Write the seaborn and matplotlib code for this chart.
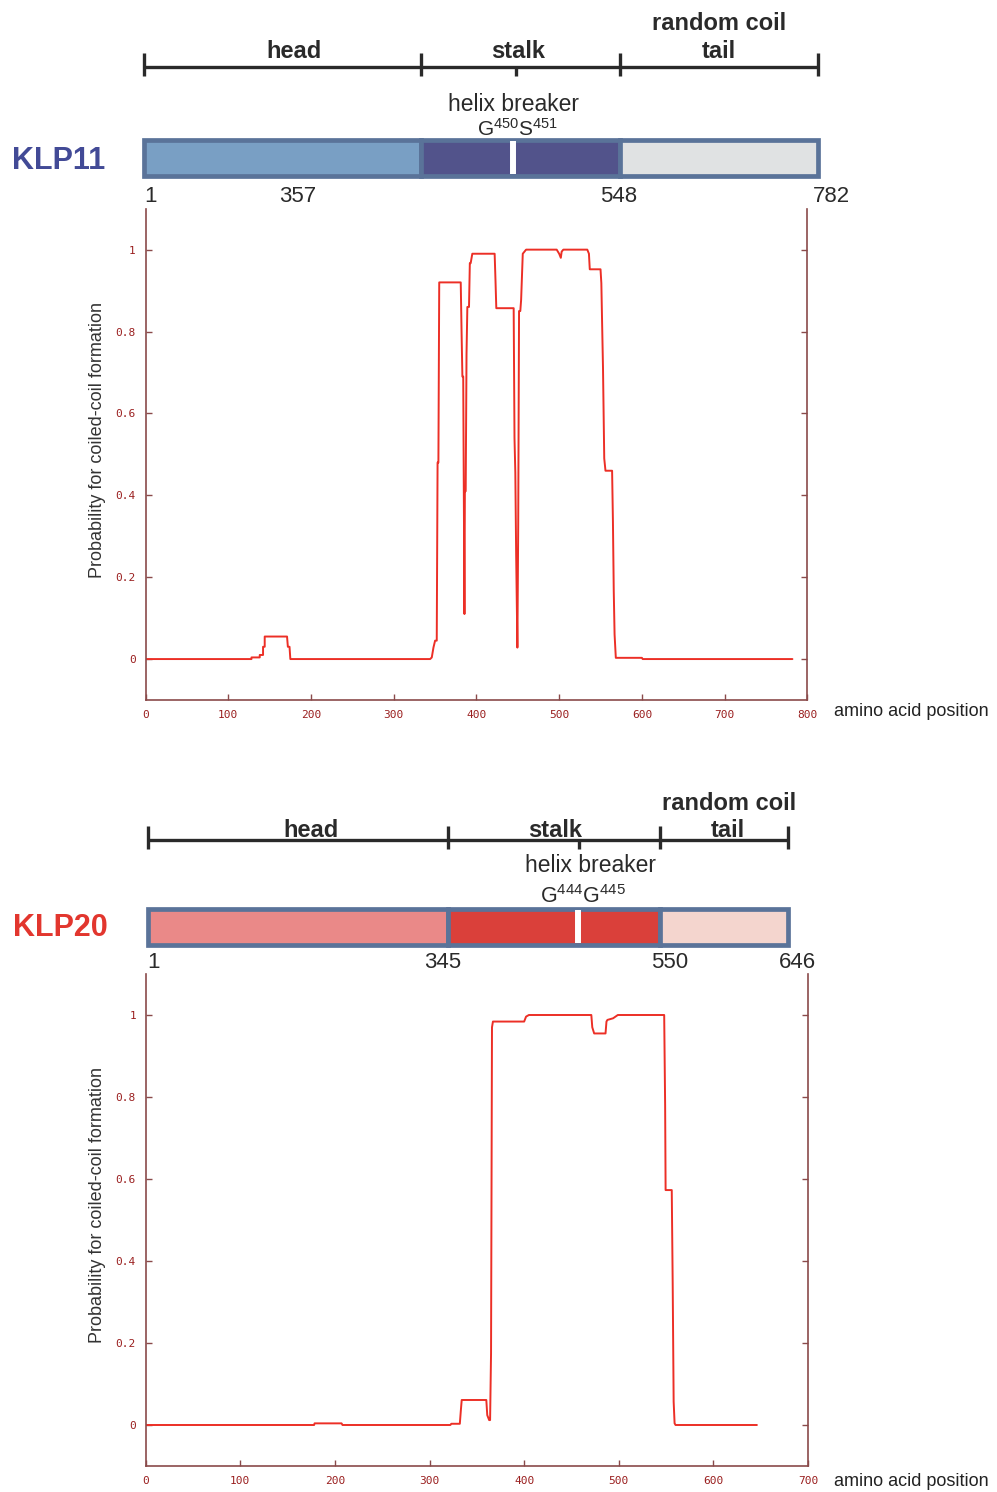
import numpy as np
import pandas as pd
import seaborn as sns
import matplotlib.pyplot as plt

# ---- data ----
# KLP11 coiled-coil probability (residue, probability)
klp11_pos = [1, 128, 128, 138, 138, 142, 142, 144, 144, 171, 172, 174, 175,
             344, 346, 348, 350, 352, 353, 354, 355, 381, 382, 383, 384, 385.5,
             386, 387, 388, 389, 391, 392, 393, 395, 422, 423, 424, 445, 446,
             447, 448, 449.5, 450.5, 451.5, 453, 454, 456, 460, 497, 500, 502,
             503, 505, 534, 536, 537, 550, 551, 552, 553, 554.5, 556, 564, 565,
             566, 567, 568.5, 600, 601, 782]
klp11_prob = [0.0, 0.0, 0.004, 0.004, 0.01, 0.01, 0.03, 0.03, 0.055, 0.055, 0.03, 0.03, 0.0,
              0.0, 0.004, 0.028, 0.045, 0.045, 0.48, 0.48, 0.92, 0.92, 0.80, 0.69, 0.69, 0.11,
              0.41, 0.41, 0.745, 0.86, 0.86, 0.967, 0.967, 0.99, 0.99, 0.926, 0.857, 0.857, 0.54,
              0.455, 0.256, 0.028, 0.33, 0.85, 0.85, 0.877, 0.99, 1.0, 1.0, 0.99, 0.98,
              0.995, 1.0, 1.0, 0.99, 0.952, 0.952, 0.918, 0.813, 0.711, 0.49, 0.46, 0.46, 0.337,
              0.166, 0.06, 0.003, 0.003, 0.0, 0.0]

# KLP20 coiled-coil probability
klp20_pos = [1, 178, 178.5, 207, 208, 322, 323, 332, 333, 334, 360, 361, 363, 364,
             365, 366, 367, 400, 402, 405, 471, 472, 474, 486, 487, 488, 494, 499,
             548, 549, 549.5, 556, 557, 558, 559, 560, 646]
klp20_prob = [0.0, 0.0, 0.004, 0.004, 0.0, 0.0, 0.003, 0.003, 0.033, 0.061, 0.061, 0.024, 0.012, 0.012,
              0.175, 0.97, 0.984, 0.984, 0.996, 1.0, 1.0, 0.97, 0.955, 0.955, 0.984, 0.988, 0.992, 1.0,
              1.0, 0.78, 0.573, 0.573, 0.342, 0.057, 0.004, 0.0, 0.0]

# domain schematics (boundaries as drawn in the schematic, residue scale)
klp11_length = 782
klp11_bounds = [0, 321, 552, 782]
klp11_breaker = 428
klp11_colors = ['#799fc4', '#52538b', '#e0e2e3']
klp11_numbers = ['1', '357', '548', '782']

klp20_length = 646
klp20_bounds = [0, 303, 517, 646]
klp20_breaker = 434
klp20_colors = ['#ea8988', '#da403a', '#f4d5ce']
klp20_numbers = ['1', '345', '550', '646']

domain_names = ['head', 'stalk', 'tail']

y_ticks = [0, 0.2, 0.4, 0.6, 0.8, 1]
y_ticklabels = ['0', '0.2', '0.4', '0.6', '0.8', '1']

# ---- style ----
W, H = 997, 1492
sns.set_style('white')
plt.rcParams['font.family'] = ['Liberation Sans', 'DejaVu Sans']
plt.rcParams['mathtext.fontset'] = 'custom'
plt.rcParams['mathtext.rm'] = 'Liberation Sans'

spine_col = '#8a4a4a'
tick_col = '#9a1f1f'
line_red = '#ec2f26'
border = '#5a7399'
dark = '#2a2a2a'

fig = plt.figure(figsize=(W / 100, H / 100), dpi=100)


def ftxt(x, y, s, **kw):
    # place text at pixel position of the figure
    fig.text(x / W, 1 - y / H, s, **kw)


def profile(rect, pos, prob, xmax, xlabel_y):
    ax = fig.add_axes(rect)
    df = pd.DataFrame({'pos': pos, 'prob': prob})
    sns.lineplot(data=df, x='pos', y='prob', ax=ax, sort=False, estimator=None,
                 color=line_red, linewidth=1.4)
    ax.set_xlim(0, xmax)
    ax.set_ylim(-0.1, 1.1)
    ax.set_xticks(np.arange(0, xmax + 1, 100))
    ax.set_yticks(y_ticks)
    ax.set_yticklabels(y_ticklabels)
    for lab in ax.get_xticklabels() + ax.get_yticklabels():
        lab.set_fontfamily('DejaVu Sans Mono')
        lab.set_fontsize(8)
        lab.set_color(tick_col)
    ax.tick_params(axis='both', direction='in', length=4, width=1, color=spine_col, pad=7)
    ax.tick_params(axis='y', right=True, left=True)
    ax.tick_params(axis='x', bottom=True, top=False)
    ax.spines['top'].set_visible(False)
    for s in ['left', 'right', 'bottom']:
        ax.spines[s].set_color(spine_col)
        ax.spines[s].set_linewidth(1.2)
    ax.set_xlabel('')
    ax.set_ylabel('Probability for coiled-coil formation', fontsize=13, color='#333333')
    ax.yaxis.set_label_coords(-0.06, 0.53)
    ftxt(834, xlabel_y, 'amino acid position', fontsize=13, color='#222222', va='center')
    return ax


def schematic(rect, ylim, length, bounds, breaker, mid_tick, colors, line_y, bar_y):
    ax = fig.add_axes(rect)
    ax.set_xlim(0, length)
    ax.set_ylim(*ylim)
    ax.axis('off')
    for start, end, c in zip(bounds[:-1], bounds[1:], colors):
        ax.barh(bar_y, end - start, left=start, height=36, color=c,
                edgecolor=border, linewidth=3.4, clip_on=False)
    ax.vlines(breaker, bar_y - 16.5, bar_y + 16.5, color='white', lw=4.3, clip_on=False)
    ax.hlines(line_y, 0, length, color=dark, lw=2.4, clip_on=False)
    ax.vlines(bounds, line_y - 14, line_y + 9, color=dark, lw=2.4, clip_on=False)
    ax.vlines(mid_tick, line_y, line_y + 9, color=dark, lw=2.4, clip_on=False)
    return ax


# ---- KLP11 ----
schematic([144 / W, 1 - 210 / H, 674 / W, 210 / H], (210, 0), klp11_length,
          klp11_bounds, klp11_breaker, 432, klp11_colors, 67, 157.5)
bold = dict(fontsize=17, fontweight='bold', color=dark, ha='center', va='baseline')
ftxt(719, 30, 'random coil', **bold)
for name, x in zip(domain_names, [294, 518, 719]):
    ftxt(x, 58, name, **bold)
ftxt(514, 111, 'helix breaker', fontsize=16.5, color=dark, ha='center', va='baseline')
ftxt(518, 136, r'$\mathrm{G^{450}S^{451}}$', fontsize=15, color=dark, ha='center', va='baseline')
for s, x in zip(klp11_numbers, [150, 298, 619, 831]):
    ftxt(x, 202, s, fontsize=16, color=dark, ha='center', va='baseline')
ftxt(59, 161, 'KLP11', fontsize=22, fontweight='bold', color='#424a96', ha='center', va='center')

profile([145.6 / W, 1 - 700 / H, 661.7 / W, 491.3 / H], klp11_pos, klp11_prob, 800, 711)

# ---- KLP20 ----
schematic([148 / W, 1 - 980 / H, 640 / W, 200 / H], (980, 780), klp20_length,
          klp20_bounds, klp20_breaker, 435, klp20_colors, 840, 926.5)
ftxt(729, 810, 'random coil', **bold)
for name, x in zip(domain_names, [311, 555, 728]):
    ftxt(x, 837, name, **bold)
ftxt(590, 872, 'helix breaker', fontsize=16.5, color=dark, ha='center', va='baseline')
ftxt(583, 903, r'$\mathrm{G^{444}G^{445}}$', fontsize=15.5, color=dark, ha='center', va='baseline')
for s, x in zip(klp20_numbers, [153, 443, 670, 797]):
    ftxt(x, 968, s, fontsize=16, color=dark, ha='center', va='baseline')
ftxt(60, 928, 'KLP20', fontsize=22, fontweight='bold', color='#e2362e', ha='center', va='center')

profile([145.7 / W, 1 - 1466 / H, 662.3 / W, 492 / H], klp20_pos, klp20_prob, 700, 1481)

fig.savefig('out.png', dpi=100, facecolor='white')
